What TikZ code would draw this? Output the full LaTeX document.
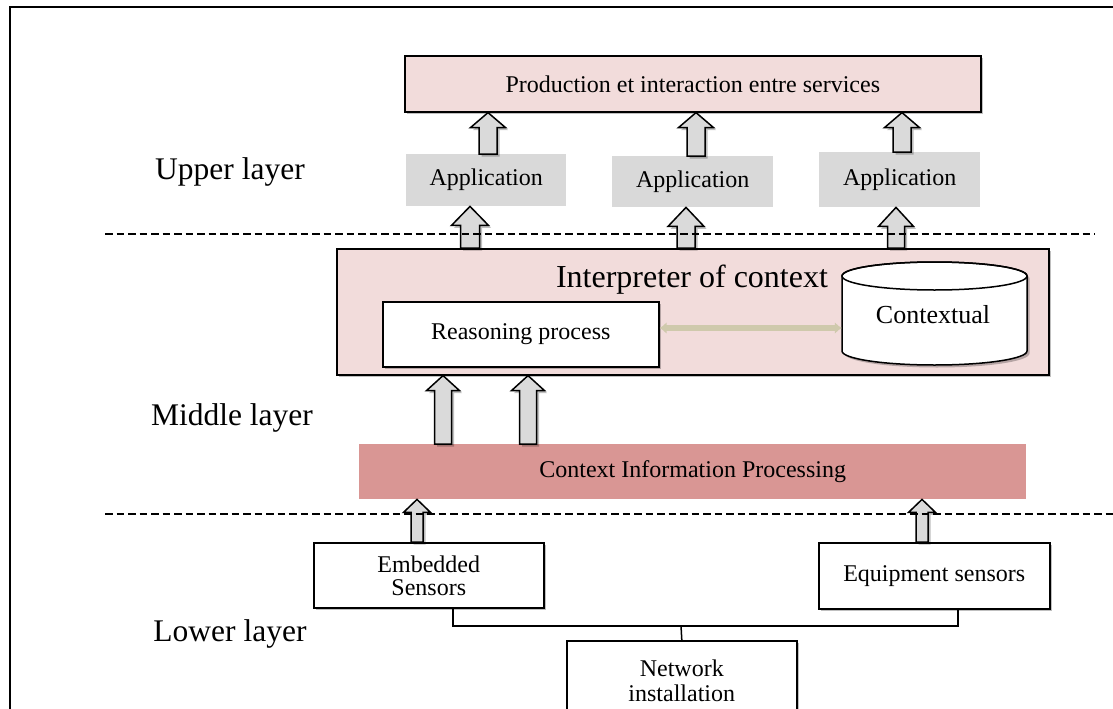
\documentclass[tikz,border=0pt]{standalone}
\usepackage{fontspec}
\setmainfont{Liberation Serif}
\usetikzlibrary{arrows.meta,shadows,calc}
\definecolor{pinkbg}{HTML}{F2DCDB}
\definecolor{appgray}{HTML}{D9D9D9}
\definecolor{cipred}{HTML}{D99694}
\definecolor{beigearr}{HTML}{CFC9AC}
\definecolor{arrgray}{HTML}{DADADA}
\newcommand\myfs[2]{\fontsize{#1}{#2}\selectfont}
\tikzset{
  x=1pt, y=-1pt,
  shad/.style={drop shadow={shadow xshift=2.5pt, shadow yshift=-2.5pt, opacity=0.25, fill=black}},
  boxbase/.style={anchor=north west, inner sep=0pt, align=center, font=\myfs{24}{26}},
  pinkbox/.style={boxbase, draw=black, line width=1.6pt, fill=pinkbg, shad},
  whitebox/.style={boxbase, draw=black, line width=1.6pt, fill=white, shad},
  appbox/.style={boxbase, fill=appgray},
  cipbox/.style={boxbase, fill=cipred},
  layerlbl/.style={font=\myfs{31.5}{34}, inner sep=0pt},
  blockarr/.style={draw=black, line width=1.5pt, fill=arrgray, line join=miter},
  conn/.style={draw=black, line width=1.5pt},
  layerline/.style={draw=black, line width=2.2pt, dash pattern=on 7.5pt off 4pt},
}
% block arrow pointing up: #1 x, #2 bottom anchor, #3 top anchor, #4 half stem, #5 half head, #6 head length
\newcommand\blockup[6]{%
  \path[blockarr, shad] let \p1=(#1,0 |- #2), \p2=(#1,0 |- #3) in
    (\x1-#4pt,\y1) -- (\x1-#4pt,\y2-#6pt) -- (\x1-#5pt,\y2-#6pt) -- (\x1,\y2)
    -- (\x1+#5pt,\y2-#6pt) -- (\x1+#4pt,\y2-#6pt) -- (\x1+#4pt,\y1) -- cycle;}
\begin{document}
\begin{tikzpicture}
\useasboundingbox (0,0) rectangle (1113,709);
% outer frame
\coordinate (fbl) at (10,712);
\coordinate (ftl) at (10,7);
\coordinate (ftr) at (1116,7);
\draw[line width=1.3pt] (fbl) -- (ftl) -- (ftr);

% upper layer
\node[pinkbox, minimum width=576pt, minimum height=56pt] (prod) at (404,55) {Production et interaction entre services};
\node[appbox, minimum width=160pt, minimum height=52pt] (app1) at (406,154) {Application};
\node[appbox, minimum width=161pt, minimum height=51pt] (app2) at (612,156) {Application};
\node[appbox, minimum width=161pt, minimum height=55pt] (app3) at (819,152) {Application};

% middle layer
\node[pinkbox, minimum width=712pt, minimum height=126pt] (interp) at (336,248) {};
\node[font=\myfs{32}{34}, inner sep=0pt] (interpt) at (692,280) {Interpreter of context};
\node[whitebox, minimum width=276pt, minimum height=65pt] (reason) at (382,301) {Reasoning process};
\filldraw[fill=white, line width=1.5pt, shad] (842,276) -- (842,351)
  arc[start angle=180, end angle=0, x radius=92.5, y radius=14] -- (1027,276)
  arc[start angle=0, end angle=-180, x radius=92.5, y radius=14] -- cycle;
\draw[line width=1.5pt] (934.5,276) ellipse [x radius=92.5, y radius=14];
\node[inner sep=0pt, minimum width=185pt, minimum height=103pt] (cyl) at (934.5,313.5) {};
\node[font=\myfs{26}{28}, inner sep=0pt] (cylt) at (933,315) {Contextual};
\draw[line width=6.5pt, draw=beigearr, {Latex[length=7pt,width=12pt]}-{Latex[length=7pt,width=12pt]}]
  (reason.east |- 0,328) -- (cyl.west |- 0,328);

\node[cipbox, minimum width=667pt, minimum height=55pt] (cip) at (359,444) {Context Information Processing};

% lower layer
\node[whitebox, minimum width=230pt, minimum height=65pt, font=\myfs{24}{23}] (emb) at (313,542) {Embedded\\Sensors};
\node[whitebox, minimum width=231pt, minimum height=66pt] (eqp) at (818,542) {Equipment sensors};
\node[whitebox, minimum width=230pt, minimum height=80pt, font=\myfs{24}{25}] (net) at (566,640) {Network\\installation};
\coordinate (bus) at (681,626);
\draw[conn] ([xshift=24pt]emb.south) |- (bus) -| ([xshift=23.5pt]eqp.south);
\draw[conn] (net.north) -- (bus);

% block arrows
\blockup{488}{app1.north}{prod.south}{9}{17.5}{15}
\blockup{696}{app2.north}{prod.south}{9}{17.5}{15}
\blockup{902}{app3.north}{prod.south}{9}{17.5}{15}
\blockup{470}{interp.north}{app1.south}{9.5}{18.5}{19}
\blockup{686}{interp.north}{app2.south}{9}{18}{19}
\blockup{896}{interp.north}{app3.south}{8.5}{17.5}{19}
\blockup{443}{cip.north}{interp.south}{8.5}{16.5}{15}
\blockup{528}{cip.north}{interp.south}{8.5}{16.5}{15}
\blockup{417}{emb.north}{cip.south}{6}{13.5}{13}
\blockup{922}{eqp.north}{cip.south}{6}{13.5}{13}

% layer separators
\coordinate (d1a) at (105,234);
\coordinate (d1b) at (1095,234);
\coordinate (d2a) at (105,514);
\coordinate (d2b) at (1113,514);
\draw[layerline] (d1a) -- (d1b);
\draw[layerline] (d2a) -- (d2b);

% layer labels
\node[layerlbl] (lup) at (230,172) {Upper layer};
\node[layerlbl] (lmid) at (232,418) {Middle layer};
\node[layerlbl] (llow) at (230,634) {Lower layer};
\end{tikzpicture}
\end{document}
